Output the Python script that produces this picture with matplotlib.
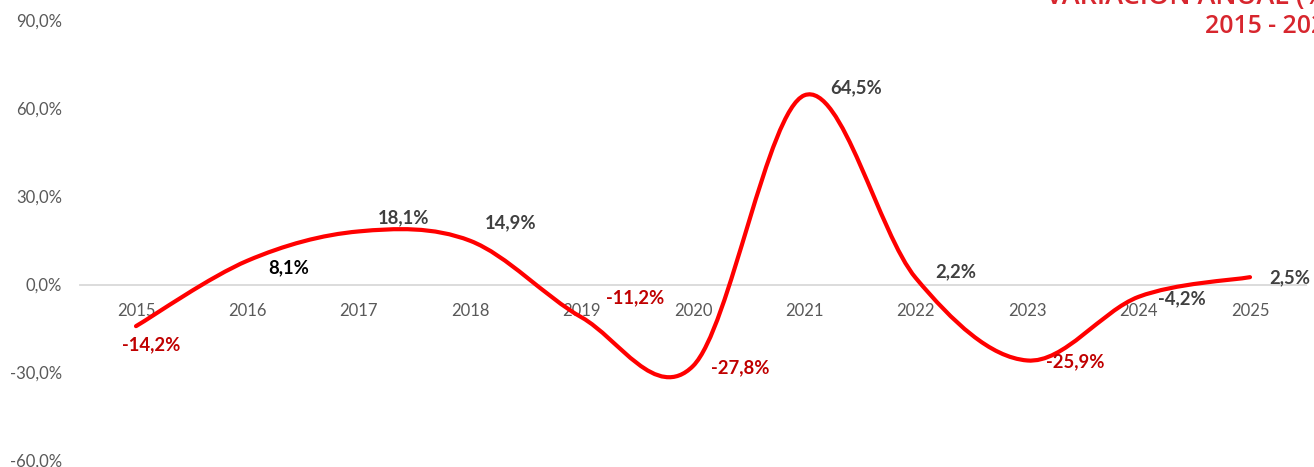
import numpy as np
import matplotlib
matplotlib.use("Agg")
import matplotlib.pyplot as plt
from matplotlib.path import Path
from matplotlib.patches import PathPatch

years = ["2015", "2016", "2017", "2018", "2019", "2020", "2021", "2022", "2023", "2024", "2025"]
values = [-14.2, 8.1, 18.1, 14.9, -11.2, -27.8, 64.5, 2.2, -25.9, -4.2, 2.5]
labels = ["-14,2%", "8,1%", "18,1%", "14,9%", "-11,2%", "-27,8%", "64,5%", "2,2%", "-25,9%", "-4,2%", "2,5%"]
yticks = [-60, -30, 0, 30, 60, 90]
title_lines = ["VARIACIÓN ANUAL (%)", "2015 - 2025"]

# label styling (pixel offsets from point, colours)
label_offsets = [(15, -19), (41, -7), (45, 14), (40, 18), (54, 20), (47, -2),
                 (52, 8), (40, 6), (48, -1), (43, -2), (40, -1)]
label_colors = ["#C00000", "#000000", "#404040", "#404040", "#C00000", "#C00000",
                "#404040", "#404040", "#C00000", "#404040", "#404040"]

W, H = 1314, 467
fig = plt.figure(figsize=(W / 100, H / 100), dpi=100)
left, right = 80.3, 1305.7
top_px, bot_px = 20.5, 460.5
ax = fig.add_axes([left / W, (H - bot_px) / H, (right - left) / W, (bot_px - top_px) / H])
ax.set_xlim(-0.5, len(years) - 0.5)
ax.set_ylim(-60, 90)

# Excel-style smoothed line (Catmull-Rom -> cubic Bezier)
x = np.arange(len(values), dtype=float)
y = np.array(values, dtype=float)
P = np.column_stack([x, y])
verts = [tuple(P[0])]
codes = [Path.MOVETO]
n = len(P)
for i in range(n - 1):
    p0 = P[i - 1] if i > 0 else P[i]
    p1 = P[i]
    p2 = P[i + 1]
    p3 = P[i + 2] if i + 2 < n else P[i + 1]
    c1 = p1 + (p2 - p0) / 6.0
    c2 = p2 - (p3 - p1) / 6.0
    verts += [tuple(c1), tuple(c2), tuple(p2)]
    codes += [Path.CURVE4] * 3
path = Path(verts, codes)
ax.add_patch(PathPatch(path, facecolor="none", edgecolor="#FF0000", lw=3.0,
                       capstyle="round", joinstyle="round", zorder=3))

# axes styling
for s in ["top", "right", "left"]:
    ax.spines[s].set_visible(False)
ax.spines["bottom"].set_position(("data", 0))
ax.spines["bottom"].set_color("#D9D9D9")
ax.spines["bottom"].set_linewidth(1.3)
ax.set_xticks(x)
ax.set_xticklabels(years)
ax.set_yticks(yticks)
ax.set_yticklabels([f"{v},0%" for v in yticks])
ax.tick_params(axis="x", length=0, pad=13, labelsize=12, labelcolor="#595959")
ax.tick_params(axis="y", length=0, pad=13, labelsize=12, labelcolor="#595959")
for t in ax.get_xticklabels() + ax.get_yticklabels():
    t.set_fontfamily("Lato")
ax.patch.set_visible(False)

# data labels
for xi, yi, lab, off, col in zip(x, y, labels, label_offsets, label_colors):
    ax.annotate(lab, (xi, yi), xytext=(off[0] * 0.72, off[1] * 0.72), textcoords="offset points",
                ha="center", va="center", fontsize=13.3, fontweight="bold",
                color=col, fontfamily="Lato", zorder=4)

# title (partially outside the canvas, as in the reference)
fig.text(1336 / W, 1 - 4 / H, title_lines[0], ha="right", va="baseline",
         fontsize=19.5, fontweight="semibold", color="#D7262E", fontfamily="Open Sans")
fig.text(1339 / W, 1 - 33 / H, title_lines[1], ha="right", va="baseline",
         fontsize=17.8, fontweight="semibold", color="#D7262E", fontfamily="Open Sans")

fig.savefig("out.png", dpi=100)
